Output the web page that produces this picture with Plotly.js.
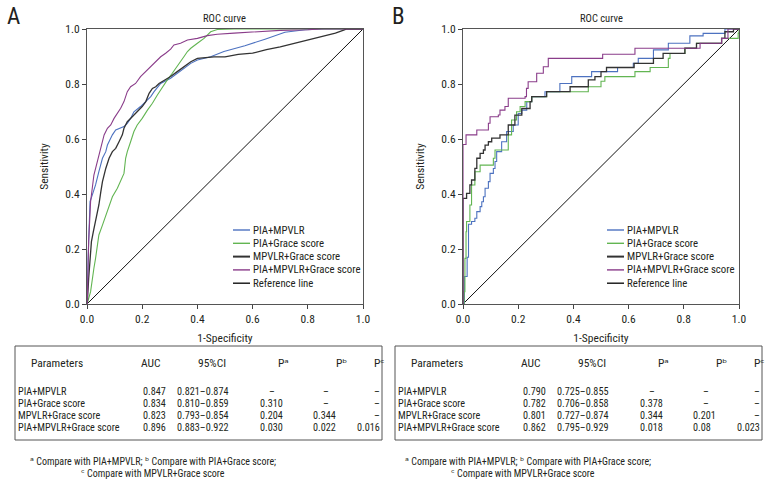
<!DOCTYPE html>
<html><head><meta charset="utf-8">
<script src="https://cdn.plot.ly/plotly-3.0.1.min.js"></script>
<style>
html,body{margin:0;padding:0;background:#fff}
#chart{width:780px;height:492px}
</style>
</head><body><div id="chart"></div>
<script>
// ---------- DATA ----------
const seriesNames = ['PIA+MPVLR', 'PIA+Grace score', 'MPVLR+Grace score', 'PIA+MPVLR+Grace score'];
const refName = 'Reference line';
const tickVals = [0, 0.2, 0.4, 0.6, 0.8, 1.0];

// Panel A (1-Specificity, Sensitivity)
const aBlueFpr = [0,0.001,0.004,0.007,0.011,0.019,0.031,0.043,0.050,0.056,0.068,0.074,0.092,0.104,0.134,0.146,0.158,0.170,0.194,0.219,0.231,0.243,0.267,0.303,0.327,0.351,0.376,0.400,0.448,0.496,0.572,0.645,0.717,0.790,0.862,1];
const aBlueTpr = [0,0.002,0.166,0.287,0.372,0.396,0.433,0.481,0.505,0.530,0.554,0.578,0.615,0.633,0.645,0.657,0.675,0.699,0.718,0.742,0.754,0.772,0.802,0.821,0.839,0.857,0.875,0.887,0.899,0.918,0.939,0.963,0.988,0.997,1.0,1];
const aGreenFpr = [0,0.001,0.013,0.019,0.025,0.031,0.037,0.043,0.056,0.068,0.080,0.092,0.110,0.122,0.134,0.140,0.146,0.158,0.170,0.182,0.200,0.219,0.237,0.255,0.273,0.291,0.309,0.327,0.339,0.351,0.364,0.376,0.400,0.424,0.448,0.472,0.533,1];
const aGreenTpr = [0,0.002,0.045,0.093,0.130,0.166,0.215,0.251,0.287,0.324,0.360,0.390,0.421,0.445,0.475,0.530,0.554,0.590,0.627,0.651,0.675,0.705,0.730,0.760,0.790,0.815,0.839,0.863,0.881,0.899,0.918,0.930,0.948,0.966,0.990,0.998,1.0,1];
const aBlackFpr = [0,0.001,0.006,0.011,0.016,0.023,0.031,0.043,0.050,0.056,0.068,0.080,0.092,0.104,0.116,0.128,0.134,0.146,0.164,0.182,0.200,0.213,0.225,0.237,0.249,0.261,0.285,0.303,0.327,0.351,0.376,0.400,0.460,0.500,0.548,0.600,0.650,0.700,0.750,0.800,0.850,0.900,0.930,0.941,1];
const aBlackTpr = [0,0.002,0.093,0.166,0.227,0.263,0.299,0.360,0.408,0.445,0.493,0.530,0.554,0.566,0.590,0.615,0.639,0.663,0.681,0.699,0.718,0.736,0.766,0.784,0.790,0.802,0.815,0.827,0.845,0.863,0.881,0.893,0.899,0.899,0.908,0.912,0.925,0.935,0.948,0.960,0.972,0.985,0.996,1.0,1];
const aPurpleFpr = [0,0.001,0.006,0.013,0.025,0.037,0.050,0.062,0.074,0.086,0.098,0.110,0.122,0.134,0.146,0.158,0.176,0.194,0.213,0.231,0.249,0.267,0.285,0.303,0.315,0.339,0.364,0.400,0.436,0.472,0.533,0.600,0.700,0.800,0.850,1];
const aPurpleTpr = [0,0.002,0.227,0.372,0.469,0.518,0.566,0.615,0.639,0.651,0.675,0.693,0.712,0.736,0.772,0.790,0.802,0.827,0.845,0.863,0.881,0.899,0.912,0.927,0.942,0.948,0.960,0.966,0.976,0.981,0.985,0.990,0.995,0.997,1.0,1];

// Panel B (step curves)
const bBlueFpr = [0,0.005,0.015,0.020,0.031,0.043,0.050,0.062,0.068,0.074,0.080,0.092,0.098,0.110,0.116,0.122,0.140,0.158,0.182,0.200,0.213,0.231,0.249,0.297,0.351,0.394,0.466,0.560,0.617,0.635,0.690,0.744,0.822,0.870,0.949,1];
const bBlueTpr = [0,0.100,0.170,0.290,0.300,0.312,0.336,0.354,0.372,0.390,0.421,0.445,0.475,0.493,0.518,0.554,0.590,0.627,0.651,0.693,0.705,0.736,0.754,0.772,0.802,0.827,0.845,0.860,0.875,0.893,0.924,0.948,0.975,0.984,1.0,1];
const bGreenFpr = [0,0.004,0.007,0.011,0.013,0.025,0.031,0.043,0.062,0.110,0.116,0.164,0.176,0.194,0.207,0.225,0.249,0.303,0.454,0.500,0.514,0.623,0.678,0.744,0.750,0.804,0.846,0.937,0.997,1];
const bGreenTpr = [0,0.045,0.166,0.263,0.300,0.360,0.433,0.481,0.505,0.530,0.560,0.615,0.669,0.699,0.718,0.736,0.754,0.772,0.790,0.810,0.827,0.845,0.860,0.893,0.911,0.930,0.948,0.966,0.985,1];
const bBlackFpr = [0,0,0.013,0.025,0.031,0.043,0.050,0.062,0.074,0.080,0.092,0.104,0.134,0.164,0.188,0.213,0.243,0.249,0.303,0.388,0.454,0.478,0.500,0.520,0.620,0.690,0.725,0.804,0.846,0.937,0.949,0.980,1];
const bBlackTpr = [0,0.384,0.402,0.433,0.451,0.493,0.530,0.548,0.560,0.578,0.590,0.603,0.615,0.651,0.687,0.711,0.736,0.754,0.772,0.790,0.815,0.827,0.845,0.860,0.875,0.893,0.911,0.930,0.948,0.966,0.990,1.0,1];
const bPurpleFpr = [0,0,0.011,0.050,0.092,0.098,0.128,0.134,0.152,0.164,0.225,0.230,0.236,0.267,0.291,0.309,0.506,0.623,0.859,0.937,0.960,1];
const bPurpleTpr = [0,0.580,0.615,0.633,0.657,0.681,0.687,0.705,0.718,0.748,0.754,0.784,0.808,0.839,0.863,0.893,0.908,0.930,0.948,0.966,1.0,1];

// Tables
const tableHeaders = ['Parameters', 'AUC', '95%CI', 'P\u1D43', 'P\u1D47', 'P\u1D9C'];
const DASH = '\u2013';
const aAuc = ['0.847', '0.834', '0.823', '0.896'];
const aCi  = ['0.821\u20130.874', '0.810\u20130.859', '0.793\u20130.854', '0.883\u20130.922'];
const aPa  = [DASH, '0.310', '0.204', '0.030'];
const aPb  = [DASH, DASH, '0.344', '0.022'];
const aPc  = [DASH, DASH, DASH, '0.016'];
const bAuc = ['0.790', '0.782', '0.801', '0.862'];
const bCi  = ['0.725\u20130.855', '0.706\u20130.858', '0.727\u20130.874', '0.795\u20130.929'];
const bPa  = [DASH, '0.378', '0.344', '0.018'];
const bPb  = [DASH, DASH, '0.201', '0.08'];
const bPc  = [DASH, DASH, DASH, '0.023'];
const footLine1 = '\u1D43 Compare with PIA+MPVLR; \u1D47 Compare with PIA+Grace score;';
const footLine2 = '\u1D9C Compare with MPVLR+Grace score';

// ---------- STYLE ----------
const W = 780, H = 492;
const FONT = '"Roboto Condensed", Roboto, "DejaVu Sans", sans-serif';
const TXT = '#231f20';
const colors = ['#4d72c0', '#62b552', '#333333', '#8a3d8a'];
const px = v => v / W;
const py = v => 1 - v / H;

const panels = [
  {key: 'A', xa: 'x', ya: 'y', left: 87, right: 363, tl: 15,
   data: [[aBlueFpr, aBlueTpr], [aGreenFpr, aGreenTpr], [aBlackFpr, aBlackTpr], [aPurpleFpr, aPurpleTpr]],
   shape: 'linear', auc: aAuc, ci: aCi, pa: aPa, pb: aPb, pc: aPc, f1: 153, f2: 153, letter: 14},
  {key: 'B', xa: 'x2', ya: 'y2', left: 463, right: 739, tl: 395,
   data: [[bBlueFpr, bBlueTpr], [bGreenFpr, bGreenTpr], [bBlackFpr, bBlackTpr], [bPurpleFpr, bPurpleTpr]],
   shape: 'hv', auc: bAuc, ci: bCi, pa: bPa, pb: bPb, pc: bPc, f1: 528, f2: 523, letter: 398}
];

const traces = [];
const annotations = [];
const shapes = [];

function note(text, x, y, anchor, size) {
  annotations.push({text: text, x: px(x), y: py(y), xref: 'paper', yref: 'paper', showarrow: false,
    xanchor: anchor, yanchor: 'middle', borderpad: 0, font: {family: FONT, size: size, color: TXT}});
}

panels.forEach(p => {
  traces.push({x: [0, 1], y: [0, 1], xaxis: p.xa, yaxis: p.ya, mode: 'lines', name: refName,
    line: {color: '#111', width: 1}, showlegend: false, hoverinfo: 'skip'});
  p.data.forEach((d, i) => {
    traces.push({x: d[0], y: d[1], xaxis: p.xa, yaxis: p.ya, mode: 'lines', name: seriesNames[i],
      line: {color: colors[i], width: i === 2 ? 1.3 : 1.1, shape: p.shape}, showlegend: false});
  });

  note('ROC curve', (p.left + p.right) / 2, 18, 'center', 10.5);
  note(p.key, p.letter, 17, 'center', 23);

  // legend
  const legNames = seriesNames.concat([refName]);
  const legColors = colors.concat(['#111']);
  const lx0 = p.key === 'A' ? 233 : 607;
  legNames.forEach((n, i) => {
    const yy = 230 + i * 13.3;
    shapes.push({type: 'line', xref: 'paper', yref: 'paper', x0: px(lx0), x1: px(lx0 + 17), y0: py(yy), y1: py(yy),
      line: {color: legColors[i], width: i === 2 ? 2 : 1.4}});
    note(n, lx0 + 19, yy, 'left', 10.8);
  });

  // table
  const L = p.tl;
  shapes.push({type: 'rect', xref: 'paper', yref: 'paper', x0: px(L), x1: px(L + 367), y0: py(346), y1: py(440),
    line: {color: '#555', width: 1}});
  const hdrX = [L + 15, L + 125, L + 182, L + 262, L + 320, L + 358];
  tableHeaders.forEach((h, i) => note(h, hdrX[i], 363, 'left', 11.5));
  const rowsY = [391, 403, 415, 427];
  const rs = 10.2;
  seriesNames.forEach((n, r) => {
    note(n, L + 2, rowsY[r], 'left', rs);
    note(p.auc[r], L + 127, rowsY[r], 'left', rs);
    note(p.ci[r], L + 161, rowsY[r], 'left', rs);
    if (p.pa[r] === DASH) note(DASH, L + 256.5, rowsY[r], 'center', rs);
    else note(p.pa[r], L + 244, rowsY[r], 'left', rs);
    if (p.pb[r] === DASH) note(DASH, L + 311, rowsY[r], 'center', rs);
    else note(p.pb[r], L + 297, rowsY[r], 'left', rs);
    note(p.pc[r], L + 365.5, rowsY[r], 'right', rs);
  });
  note(footLine1, p.f1, 461, 'center', 10);
  note(footLine2, p.f2, 473, 'center', 10);
});

function xAxis(domain, anchor) {
  return {domain: domain, anchor: anchor, range: [0, 1], tickvals: tickVals, tickformat: '.1f',
    ticks: 'outside', ticklen: 4, tickcolor: '#444', showline: true, mirror: true, linecolor: '#555', linewidth: 1,
    showgrid: false, zeroline: false, automargin: false, fixedrange: true,
    tickfont: {family: FONT, size: 11.5, color: TXT},
    title: {text: '1-Specificity', standoff: 9, font: {family: FONT, size: 11.5, color: TXT}}};
}
function yAxis(domain, anchor) {
  return {domain: domain, anchor: anchor, range: [0, 1], tickvals: tickVals, tickformat: '.1f',
    ticks: 'outside', ticklen: 4, tickcolor: '#444', showline: true, mirror: true, linecolor: '#555', linewidth: 1,
    showgrid: false, zeroline: false, automargin: false, fixedrange: true,
    tickfont: {family: FONT, size: 11.5, color: TXT},
    title: {text: 'Sensitivity', standoff: 14, font: {family: FONT, size: 11.5, color: TXT}}};
}

const yDom = [1 - 304 / H, 1 - 29 / H];
const layout = {
  width: W, height: H, margin: {l: 0, r: 0, t: 0, b: 0},
  paper_bgcolor: '#fff', plot_bgcolor: '#fff', showlegend: false,
  font: {family: FONT, color: TXT},
  xaxis: xAxis([87 / W, 363 / W], 'y'),
  yaxis: yAxis(yDom, 'x'),
  xaxis2: xAxis([463 / W, 739 / W], 'y2'),
  yaxis2: yAxis(yDom, 'x2'),
  annotations: annotations,
  shapes: shapes
};

Plotly.newPlot('chart', traces, layout, {displayModeBar: false, staticPlot: true});
</script>
</body></html>
